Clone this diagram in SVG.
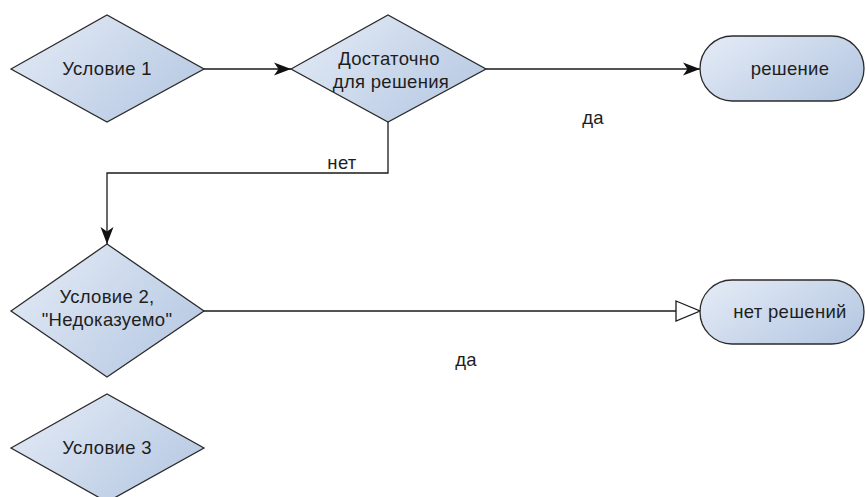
<svg xmlns="http://www.w3.org/2000/svg" width="866" height="497" viewBox="0 0 866 497">
<style>
.shape{fill:url(#g);stroke:#2b2b2b;stroke-width:1.3}
.t{font-family:"Liberation Sans",Arial,sans-serif;font-size:18.5px;letter-spacing:0.3px;fill:#1e1e1e;text-anchor:middle}
.c{fill:none;stroke:#1a1a1a;stroke-width:1.3}
</style>
<defs>
<linearGradient id="g" x1="0" y1="0.2" x2="1" y2="0.8">
<stop offset="0" stop-color="#e2e9f5"/>
<stop offset="1" stop-color="#b5c8e2"/>
</linearGradient>
<marker id="af" markerUnits="userSpaceOnUse" markerWidth="18" markerHeight="14" refX="17" refY="7" orient="auto">
<path d="M0,0.5 L17,7 L0,13.5 L4.5,7 Z" fill="#111"/>
</marker>
<marker id="ao" markerUnits="userSpaceOnUse" markerWidth="28" markerHeight="24" refX="25" refY="11" orient="auto">
<path d="M1,1 L25,11 L1,21 Z" fill="#fff" stroke="#1a1a1a" stroke-width="1.3"/>
</marker>
</defs>
<rect width="866" height="497" fill="#fff"/>
<g id="connectors">
<line class="c" x1="204" y1="69" x2="291" y2="69" marker-end="url(#af)"/>
<line class="c" x1="486" y1="69" x2="700" y2="69" marker-end="url(#af)"/>
<polyline class="c" points="388,122 388,173 107,173 107,244" marker-end="url(#af)"/>
<line class="c" x1="204" y1="311" x2="700" y2="311" marker-end="url(#ao)"/>
<text class="t" x="593" y="124">да</text>
<text class="t" x="342" y="169">нет</text>
<text class="t" x="466" y="366">да</text>
</g>
<g id="cond1">
<polygon class="shape" points="11,69 107,15 204,69 107,122"/>
<text class="t" x="107" y="75">Условие 1</text>
</g>
<g id="enough">
<polygon class="shape" points="291,69 388,15 486,69 388,122"/>
<text class="t" x="389" y="65">Достаточно</text>
<text class="t" x="391" y="88">для решения</text>
</g>
<g id="solution">
<rect class="shape" x="700" y="36" width="164" height="65" rx="32.5"/>
<text class="t" x="790" y="75">решение</text>
</g>
<g id="cond2">
<polygon class="shape" points="11,311 107,244 204,311 107,377"/>
<text class="t" x="107" y="303">Условие 2,</text>
<text class="t" x="107" y="326">"Недоказуемо"</text>
</g>
<g id="nosolution">
<rect class="shape" x="700" y="280" width="164" height="64" rx="32"/>
<text class="t" x="790" y="318">нет решений</text>
</g>
<g id="cond3">
<polygon class="shape" points="11,448 107,394 204,448 107,502"/>
<text class="t" x="107" y="454">Условие 3</text>
</g>
</svg>
